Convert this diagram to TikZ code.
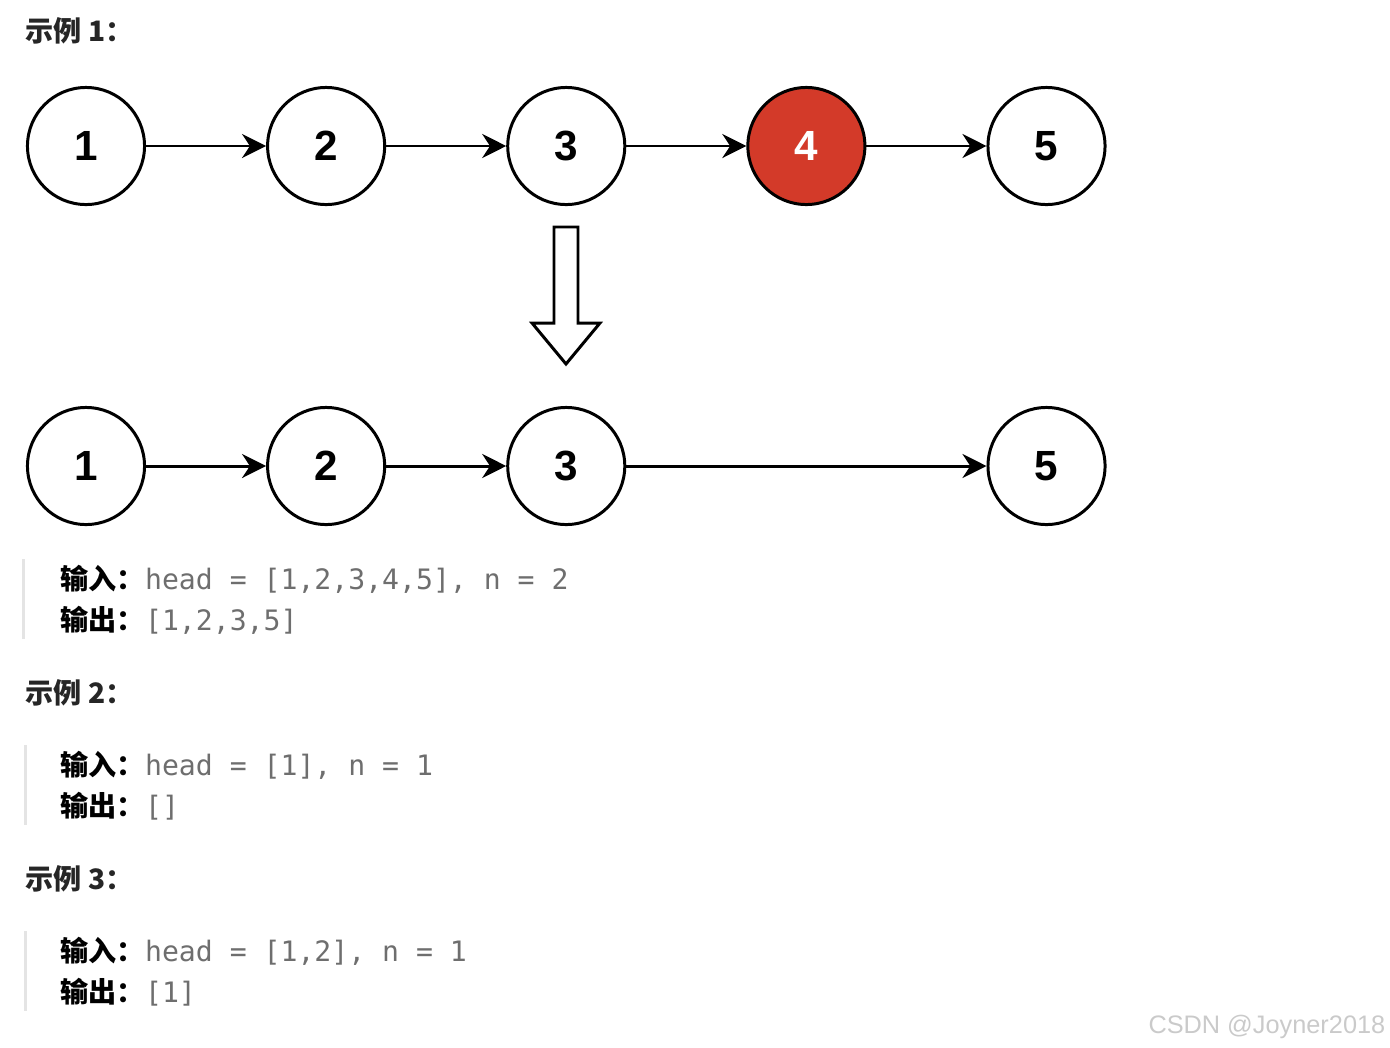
\documentclass[tikz,border=0pt]{standalone}
\usepackage{fontspec}
\setmainfont{Liberation Sans}
\setmonofont{DejaVu Sans Mono}
\newfontfamily\cjk{Noto Sans CJK SC}
\usetikzlibrary{arrows.meta, positioning}

\definecolor{nodered}{HTML}{D33A29}
\definecolor{codegray}{HTML}{6E6E6E}
\definecolor{bargray}{HTML}{E4E4E4}
\definecolor{markgray}{HTML}{CACACA}

\begin{document}
\begin{tikzpicture}[x=0.01cm, y=-0.01cm,
			lnode/.style={draw, circle, line width=0.85pt, minimum size=1.17cm, inner sep=0pt,
				font=\bfseries\fontsize{12pt}{12pt}\selectfont},
			link/.style={-{Stealth[length=0.24cm, width=0.24cm]}, line width=0.85pt},
			title/.style={anchor=base west, inner sep=0pt, text=black!85,
				font=\cjk\bfseries\fontsize{8pt}{10pt}\selectfont},
			codeline/.style={anchor=base west, inner sep=0pt, font=\fontsize{8pt}{10pt}\selectfont},
			bar/.style={bargray, line width=0.03cm}]
			
			\useasboundingbox (0,0) rectangle (1390,1048);
			
			% 示例 1 标题
			\node[title] (t1) at (25,41) {示例 1：};
			
			% 原链表
			\node[lnode] (n1) at (86,146) {1};
			\node[lnode, right=1.2cm of n1] (n2) {2};
			\node[lnode, right=1.2cm of n2] (n3) {3};
			\node[lnode, right=1.2cm of n3, fill=nodered, text=white] (n4) {4};
			\node[lnode, right=1.2cm of n4] (n5) {5};
			
			\draw[link] (n1) -- (n2);
			\draw[link] (n2) -- (n3);
			\draw[link] (n3) -- (n4);
			\draw[link] (n4) -- (n5);
			
			% 空心箭头
			\draw[line width=0.85pt, line join=miter] (554,227) -- (578,227) -- (578,323) -- (600,323)
				-- (566,364) -- (532,323) -- (554,323) -- cycle;
			
			% 删除后的链表
			\node[lnode] (m1) at (86,466) {1};
			\node[lnode, right=1.2cm of m1] (m2) {2};
			\node[lnode, right=1.2cm of m2] (m3) {3};
			\node[lnode, right=3.6cm of m3] (m5) {5};
			
			\draw[link] (m1) -- (m2);
			\draw[link] (m2) -- (m3);
			\draw[link] (m3) -- (m5);
			
			% 示例 1 输入输出
			\draw[bar] (23.5,559) -- (23.5,639);
			\node[codeline] (in1) at (60,589) {{\cjk\bfseries 输入：}{\ttfamily\color{codegray}head = [1,2,3,4,5], n = 2}};
			\node[codeline] (out1) at (60,630) {{\cjk\bfseries 输出：}{\ttfamily\color{codegray}[1,2,3,5]}};
			
			% 示例 2
			\node[title] (t2) at (25,703) {示例 2：};
			\draw[bar] (25.5,745) -- (25.5,825);
			\node[codeline] (in2) at (60,775) {{\cjk\bfseries 输入：}{\ttfamily\color{codegray}head = [1], n = 1}};
			\node[codeline] (out2) at (60,816) {{\cjk\bfseries 输出：}{\ttfamily\color{codegray}[]}};
			
			% 示例 3
			\node[title] (t3) at (25,889) {示例 3：};
			\draw[bar] (25.5,931) -- (25.5,1011);
			\node[codeline] (in3) at (60,961) {{\cjk\bfseries 输入：}{\ttfamily\color{codegray}head = [1,2], n = 1}};
			\node[codeline] (out3) at (60,1002) {{\cjk\bfseries 输出：}{\ttfamily\color{codegray}[1]}};
			
			% 水印
			\node[anchor=base east, inner sep=0pt, text=markgray, font=\fontsize{7.2pt}{9pt}\selectfont]
				(mark) at (1386,1033) {CSDN @Joyner2018};
			
		\end{tikzpicture}
\end{document}
